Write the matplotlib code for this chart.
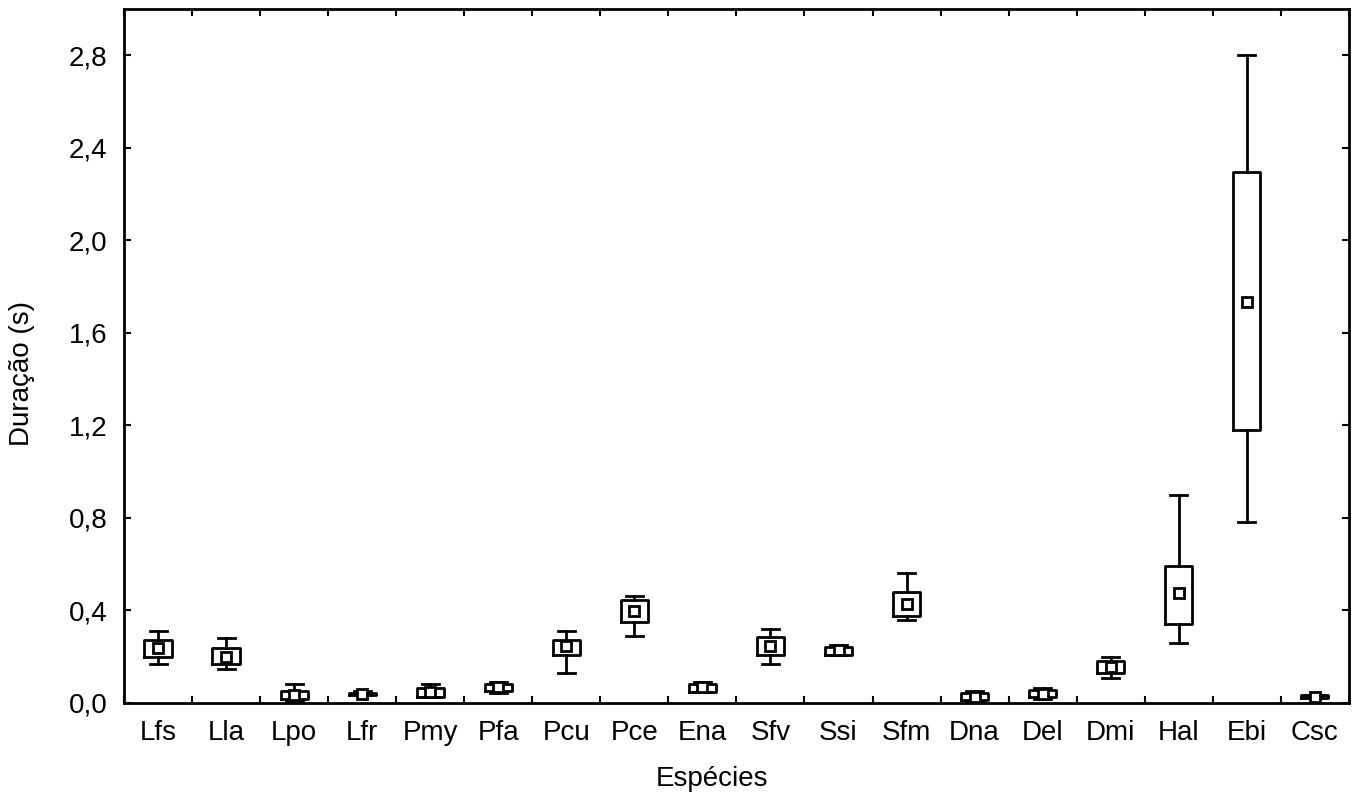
import numpy as np
import matplotlib.pyplot as plt
from matplotlib.ticker import FixedLocator, FuncFormatter

# dados: mediana, quartis e extremos (s)
especies = ["Lfs", "Lla", "Lpo", "Lfr", "Pmy", "Pfa", "Pcu", "Pce", "Ena",
            "Sfv", "Ssi", "Sfm", "Dna", "Del", "Dmi", "Hal", "Ebi", "Csc"]
mediana = [0.239, 0.200, 0.035, 0.040, 0.046, 0.068, 0.247, 0.395, 0.068,
           0.247, 0.229, 0.427, 0.027, 0.039, 0.154, 0.473, 1.733, 0.027]
q1 = [0.197, 0.167, 0.016, 0.036, 0.027, 0.052, 0.208, 0.349, 0.049,
      0.206, 0.208, 0.376, 0.013, 0.025, 0.131, 0.340, 1.180, 0.022]
q3 = [0.272, 0.237, 0.052, 0.044, 0.064, 0.081, 0.272, 0.445, 0.082,
      0.284, 0.241, 0.481, 0.042, 0.056, 0.182, 0.593, 2.295, 0.032]
minimo = [0.170, 0.148, 0.006, 0.034, 0.025, 0.042, 0.128, 0.290, 0.046,
          0.169, 0.205, 0.359, 0.006, 0.016, 0.109, 0.260, 0.782, 0.020]
maximo = [0.311, 0.280, 0.081, 0.052, 0.081, 0.091, 0.311, 0.460, 0.092,
          0.320, 0.248, 0.561, 0.052, 0.064, 0.200, 0.900, 2.800, 0.034]

plt.rcParams['font.family'] = ['Liberation Sans', 'DejaVu Sans']

fig = plt.figure(figsize=(13.55, 7.96), dpi=100)
ax = fig.add_axes([0.0915, 0.117, 0.904, 0.872])

pos = np.arange(1, len(especies) + 1)
stats = []
for i, nome in enumerate(especies):
    stats.append(dict(label=nome, med=mediana[i], q1=q1[i], q3=q3[i],
                      whislo=minimo[i], whishi=maximo[i], fliers=[]))

lw = 2.0
ax.bxp(stats, positions=pos, widths=0.4, showfliers=False, manage_ticks=False,
       boxprops=dict(color='black', linewidth=lw),
       whiskerprops=dict(color='black', linewidth=lw),
       capprops=dict(color='black', linewidth=lw),
       medianprops=dict(visible=False),
       capwidths=0.25)
ax.plot(pos, mediana, linestyle='none', marker='s', markersize=7,
        markerfacecolor='white', markeredgecolor='black', markeredgewidth=2.0,
        zorder=5)

ax.set_xlim(0.5, len(especies) + 0.5)
ax.set_ylim(0, 3.0)

ax.set_xticks(pos)
ax.set_xticklabels(especies)
ax.xaxis.set_minor_locator(FixedLocator(np.arange(0.5, len(especies) + 1, 1.0)))
ax.tick_params(axis='x', which='major', length=0, pad=12, labelsize=20)
ax.tick_params(axis='x', which='minor', direction='in', length=5, width=1.5,
               top=True, bottom=True)

ax.set_yticks(np.arange(0, 2.81, 0.4))
ax.yaxis.set_major_formatter(FuncFormatter(lambda v, p: f"{v:.1f}".replace('.', ',')))
ax.tick_params(axis='y', direction='in', length=5, width=1.5, right=True,
               labelsize=20, pad=12)

for s in ax.spines.values():
    s.set_linewidth(2.0)

ax.set_xlabel("Espécies", fontsize=20)
ax.set_ylabel("Duração (s)", fontsize=20)
ax.xaxis.set_label_coords(0.48, -0.091)
ax.yaxis.set_label_coords(-0.073, 0.475)

fig.savefig("out.png", dpi=100)
